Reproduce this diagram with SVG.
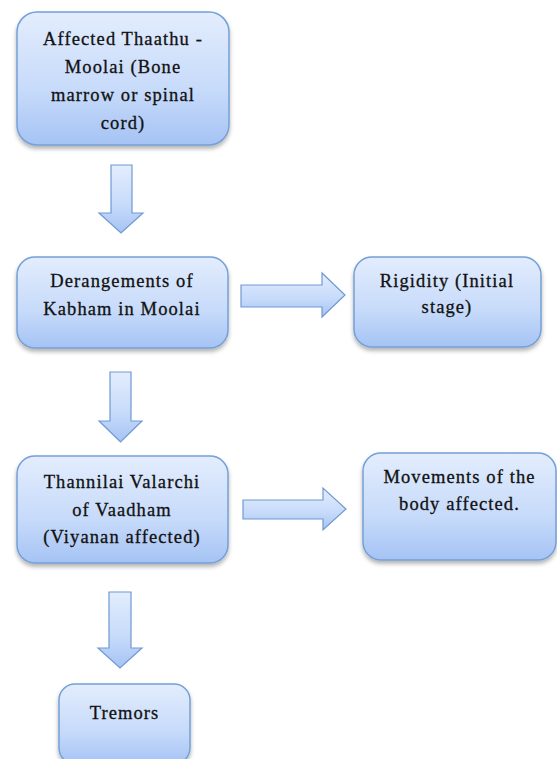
<svg xmlns="http://www.w3.org/2000/svg" width="557" height="759" viewBox="0 0 557 759">
<defs>
<linearGradient id="g" x1="0" y1="0" x2="0" y2="1">
<stop offset="0" stop-color="#e3edfd"/>
<stop offset="0.6" stop-color="#c6dafa"/>
<stop offset="1" stop-color="#a5c3f4"/>
</linearGradient>
<filter id="sh" x="-10%" y="-10%" width="125%" height="130%">
<feDropShadow dx="0" dy="3" stdDeviation="2" flood-color="#000" flood-opacity="0.3"/>
</filter>
</defs>
<style>
.box{fill:url(#g);stroke:#74a0d6;stroke-width:1.5;filter:url(#sh)}
.arr{fill:url(#g);stroke:#6f9ad2;stroke-width:1.2;stroke-linejoin:miter}
text{font-family:"Liberation Serif","Times New Roman",Tinos,serif;font-size:18.5px;fill:#111;stroke:#111;stroke-width:0.3px;text-anchor:middle;letter-spacing:1.1px}
</style>
<rect width="557" height="759" fill="#fff"/>
<g id="connectors">
<polygon class="arr" points="111,165 132,165 132,213 143,213 121,233 99,213 111,213"/>
<polygon class="arr" points="110,372 131,372 131,421 142,421 120.5,442 99,421 110,421"/>
<polygon class="arr" points="109,592 131,592 131,648 142,648 120,668 98,648 109,648"/>
<polygon class="arr" points="241,285 322,285 322,273 345,295 322,317 322,307 241,307"/>
<polygon class="arr" points="243,500 323,500 323,488 346,509 323,530 323,519 243,519"/>
</g>
<g id="n1">
<rect class="box" x="17" y="12" width="212" height="133" rx="20"/>
<text x="123" y="45">Affected Thaathu -</text>
<text x="123" y="73">Moolai (Bone</text>
<text x="123" y="101">marrow or spinal</text>
<text x="123" y="129">cord)</text>
</g>
<g id="n2">
<rect class="box" x="17" y="257" width="211" height="91" rx="18"/>
<text x="122" y="287">Derangements of</text>
<text x="122" y="315">Kabham in Moolai</text>
</g>
<g id="n3">
<rect class="box" x="354" y="257" width="187" height="90" rx="18"/>
<text x="447" y="287">Rigidity (Initial</text>
<text x="447" y="313">stage)</text>
</g>
<g id="n4">
<rect class="box" x="17" y="456" width="211" height="107" rx="18"/>
<text x="122" y="488">Thannilai Valarchi</text>
<text x="122" y="516">of Vaadham</text>
<text x="122" y="543">(Viyanan affected)</text>
</g>
<g id="n5">
<rect class="box" x="363" y="453" width="193" height="107" rx="18"/>
<text x="459.5" y="483">Movements of the</text>
<text x="459.5" y="510">body affected.</text>
</g>
<g id="n6">
<rect class="box" x="59" y="684" width="131" height="80" rx="16"/>
<text x="124.5" y="719">Tremors</text>
</g>
</svg>
